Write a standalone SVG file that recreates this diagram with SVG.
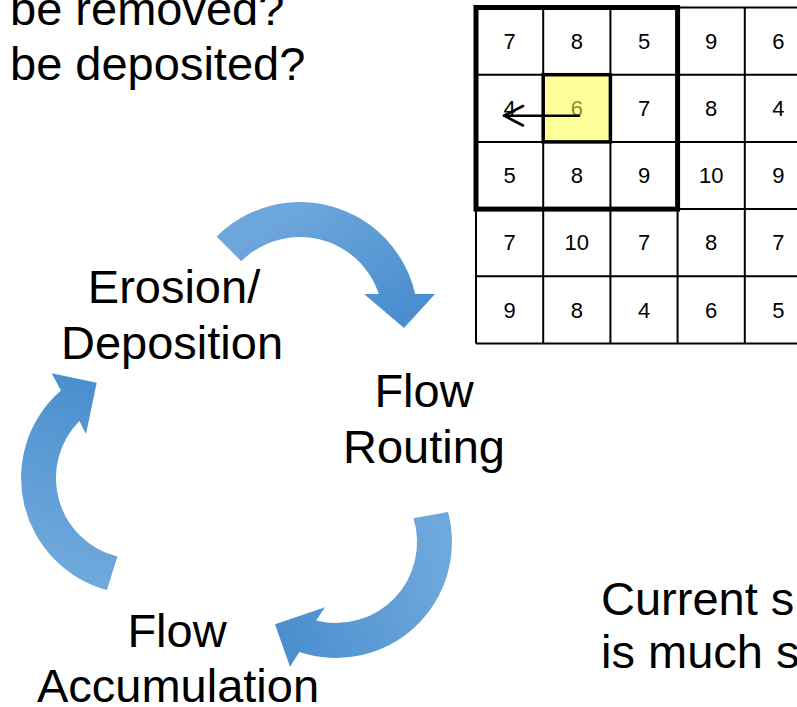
<svg xmlns="http://www.w3.org/2000/svg" width="797" height="707" viewBox="0 0 797 707">
<style>
  .lbl { font-family: "Liberation Sans", Arial, Helvetica, sans-serif; font-size: 47px; fill: #000; }
  .mid { text-anchor: middle; }
  .num { font-family: "Liberation Sans", Arial, Helvetica, sans-serif; font-size: 22px; fill: #000; text-anchor: middle; }
  .thin { stroke: #000; stroke-width: 2; fill: none; }
</style>
<defs>
  <linearGradient id="g1" gradientUnits="userSpaceOnUse" x1="300" y1="200" x2="380" y2="330">
    <stop offset="0" stop-color="#6ea7dc"/>
    <stop offset="1" stop-color="#4a8ecf"/>
  </linearGradient>
  <linearGradient id="g2" gradientUnits="userSpaceOnUse" x1="455" y1="590" x2="280" y2="640">
    <stop offset="0" stop-color="#6fa8dc"/>
    <stop offset="1" stop-color="#4a8ecf"/>
  </linearGradient>
  <linearGradient id="g3" gradientUnits="userSpaceOnUse" x1="40" y1="560" x2="100" y2="380">
    <stop offset="0" stop-color="#6fa8dc"/>
    <stop offset="1" stop-color="#4a8ecf"/>
  </linearGradient>
</defs>

<g id="question-text">
  <text class="lbl" x="10" y="25">be removed?</text>
  <text class="lbl" x="10" y="80">be deposited?</text>
</g>

<g id="grid">
  <rect x="543.2" y="74.7" width="67.2" height="67.2" fill="#ffff99"/>
  <g class="thin">
    <line x1="476" y1="7.5" x2="797" y2="7.5"/>
    <line x1="476" y1="74.7" x2="797" y2="74.7"/>
    <line x1="476" y1="141.9" x2="797" y2="141.9"/>
    <line x1="476" y1="209.1" x2="797" y2="209.1"/>
    <line x1="476" y1="276.3" x2="797" y2="276.3"/>
    <line x1="476" y1="343.5" x2="797" y2="343.5"/>
    <line x1="476" y1="7.5" x2="476" y2="343.5"/>
    <line x1="543.2" y1="7.5" x2="543.2" y2="343.5"/>
    <line x1="610.4" y1="7.5" x2="610.4" y2="343.5"/>
    <line x1="677.6" y1="7.5" x2="677.6" y2="343.5"/>
    <line x1="744.8" y1="7.5" x2="744.8" y2="343.5"/>
  </g>
  <rect x="476" y="7.5" width="201.6" height="201.6" fill="none" stroke="#000" stroke-width="5"/>
  <g class="num">
    <text x="509.6" y="48.8">7</text><text x="576.8" y="48.8">8</text><text x="644" y="48.8">5</text><text x="711.2" y="48.8">9</text><text x="778.4" y="48.8">6</text>
    <text x="509.6" y="116">4</text><text x="576.8" y="116" fill="#8e8e2e">6</text><text x="644" y="116">7</text><text x="711.2" y="116">8</text><text x="778.4" y="116">4</text>
    <text x="509.6" y="183.2">5</text><text x="576.8" y="183.2">8</text><text x="644" y="183.2">9</text><text x="711.2" y="183.2">10</text><text x="778.4" y="183.2">9</text>
    <text x="509.6" y="250.4">7</text><text x="576.8" y="250.4">10</text><text x="644" y="250.4">7</text><text x="711.2" y="250.4">8</text><text x="778.4" y="250.4">7</text>
    <text x="509.6" y="317.6">9</text><text x="576.8" y="317.6">8</text><text x="644" y="317.6">4</text><text x="711.2" y="317.6">6</text><text x="778.4" y="317.6">5</text>
  </g>
  <rect x="543.2" y="74.7" width="67.2" height="67.2" fill="none" stroke="#000" stroke-width="3.5"/>
  <g fill="none" stroke="#000" stroke-width="2.6" stroke-linecap="round" stroke-linejoin="round">
    <line x1="579" y1="115.7" x2="504" y2="115.7"/>
    <polyline points="523,106 504,115.7 523,125.5"/>
  </g>
</g>

<g id="connectors">
  <path d="M216.6,236.6 A118,118 0 0,1 415.1,294 L435,294 L404,328 L364,294 L378.8,294 A83,83 0 0,0 241.3,261.3 Z" fill="url(#g1)"/>
  <path d="M448,512 A116,116 0 0,1 299.4,652.1 L290,666.7 L275,624.3 L325,607.3 L316.1,620.5 A81,81 0 0,0 413.5,518.3 Z" fill="url(#g2)"/>
  <path d="M107,590 A116,116 0 0,1 60.9,390.5 L51.7,373.3 L96.7,382.7 L86,434 L79.4,421 A81,81 0 0,0 117.4,556.6 Z" fill="url(#g3)"/>
</g>

<g id="node-erosion">
  <text class="lbl mid" x="174" y="302.7">Erosion/</text>
  <text class="lbl mid" x="172" y="359.3">Deposition</text>
</g>
<g id="node-routing">
  <text class="lbl mid" x="424" y="407.3">Flow</text>
  <text class="lbl mid" x="424" y="463">Routing</text>
</g>
<g id="node-accumulation">
  <text class="lbl mid" x="177" y="646.7">Flow</text>
  <text class="lbl mid" x="178" y="701.7">Accumulation</text>
</g>
<g id="current-text">
  <text class="lbl" x="601" y="615">Current s</text>
  <text class="lbl" x="601" y="668.3">is much s</text>
</g>
</svg>
